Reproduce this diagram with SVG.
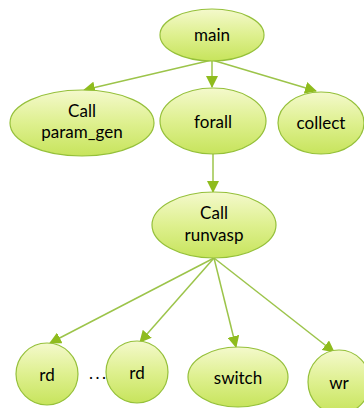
<svg xmlns="http://www.w3.org/2000/svg" width="364" height="408" viewBox="0 0 364 408">
  <defs>
    <linearGradient id="fillGrad" x1="0" y1="0" x2="0" y2="1">
      <stop offset="0" stop-color="#f4f9cc"/>
      <stop offset="0.5" stop-color="#def08f"/>
      <stop offset="1" stop-color="#c7e45c"/>
    </linearGradient>
    <marker id="arrow" viewBox="0 0 12 12" refX="11" refY="6" markerWidth="12" markerHeight="12" markerUnits="userSpaceOnUse" orient="auto">
      <path d="M0,0 L12,6 L0,12 Z" fill="#8fbc1e"/>
    </marker>
  </defs>
  <style>
    .node ellipse { fill: url(#fillGrad); stroke: #95c03a; stroke-width: 1.2; }
    .node text { font-family: Lato, "Open Sans", "Liberation Sans", sans-serif; font-size: 17px; fill: #000; text-anchor: middle; }
    .edges line { stroke: #9cc44a; stroke-width: 1.5; marker-end: url(#arrow); }
  </style>

  <g class="edges">
    <line x1="212" y1="60" x2="84" y2="90"/>
    <line x1="212" y1="60" x2="212" y2="87"/>
    <line x1="212" y1="60" x2="316" y2="91"/>
    <line x1="213" y1="153" x2="213" y2="192"/>
    <line x1="214" y1="258" x2="50" y2="343"/>
    <line x1="214" y1="258" x2="140" y2="342"/>
    <line x1="214" y1="258" x2="236" y2="347"/>
    <line x1="214" y1="258" x2="334" y2="352"/>
  </g>

  <g id="main" class="node">
    <ellipse cx="212" cy="35" rx="52" ry="26"/>
    <text x="212" y="41">main</text>
  </g>
  <g id="param_gen" class="node">
    <ellipse cx="82" cy="123" rx="72" ry="33"/>
    <text x="82" y="117">Call</text>
    <text x="82" y="138">param_gen</text>
  </g>
  <g id="forall" class="node">
    <ellipse cx="213" cy="121" rx="53" ry="33"/>
    <text x="213" y="128">forall</text>
  </g>
  <g id="collect" class="node">
    <ellipse cx="321" cy="123" rx="43" ry="31"/>
    <text x="321" y="129">collect</text>
  </g>
  <g id="runvasp" class="node">
    <ellipse cx="214" cy="225" rx="62" ry="33"/>
    <text x="214" y="219">Call</text>
    <text x="214" y="241">runvasp</text>
  </g>
  <g id="rd1" class="node">
    <ellipse cx="47" cy="374" rx="31" ry="31"/>
    <text x="47" y="381">rd</text>
  </g>
  <g id="ellipsis">
    <text x="89" y="379" font-family="Lato, 'Open Sans', 'Liberation Sans', sans-serif" font-size="17" letter-spacing="2.5" fill="#000">...</text>
  </g>
  <g id="rd2" class="node">
    <ellipse cx="137" cy="372" rx="31" ry="31"/>
    <text x="137" y="379">rd</text>
  </g>
  <g id="switch" class="node">
    <ellipse cx="238" cy="377" rx="50" ry="30"/>
    <text x="238" y="384">switch</text>
  </g>
  <g id="wr" class="node">
    <ellipse cx="339" cy="382" rx="31" ry="32"/>
    <text x="339" y="389">wr</text>
  </g>
</svg>
